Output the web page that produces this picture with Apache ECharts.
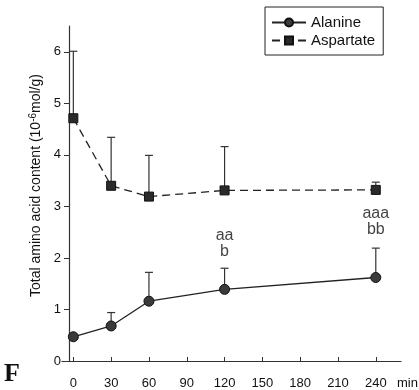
<!DOCTYPE html>
<html><head><meta charset="utf-8">
<script src="https://cdn.jsdelivr.net/npm/echarts@6/dist/echarts.min.js"></script>
<style>html,body{margin:0;padding:0;background:#fff}#c{width:419px;height:390px}</style>
</head><body><div id="c"></div>
<script>
const times = [0, 30, 60, 120, 240];
const xTicks = [0, 30, 60, 90, 120, 150, 180, 210, 240];
const yTicks = [0, 1, 2, 3, 4, 5, 6];
const alanine = [0.47, 0.68, 1.16, 1.39, 1.62];
const alanineUpper = [0.47, 0.94, 1.72, 1.80, 2.19];
const aspartate = [4.71, 3.40, 3.19, 3.31, 3.32];
const aspartateUpper = [6.01, 4.34, 3.99, 4.16, 3.47];
const annotX = [120, 240];
const annotY = [2.27, 2.70];
const annotText = ['aa\nb', 'aaa\nbb'];

const font = '"Liberation Sans", Arial, sans-serif';
function errData(v, u) { return times.map((t, i) => [t, v[i], u[i]]); }
function errSeries(v, u) {
  return {
    type: 'custom', z: 1, silent: true,
    data: errData(v, u),
    renderItem: function (params, api) {
      const p0 = api.coord([api.value(0), api.value(1)]);
      const p1 = api.coord([api.value(0), api.value(2)]);
      if (Math.abs(p1[1] - p0[1]) < 1) return null;
      return { type: 'group', children: [
        { type: 'line', shape: { x1: p0[0], y1: p0[1], x2: p1[0], y2: p1[1] }, style: { stroke: '#333', lineWidth: 1.2 } },
        { type: 'line', shape: { x1: p1[0] - 4, y1: p1[1], x2: p1[0] + 4, y2: p1[1] }, style: { stroke: '#333', lineWidth: 1.2 } }
      ]};
    }
  };
}
const chart = echarts.init(document.getElementById('c'));
chart.setOption({
  animation: false,
  backgroundColor: '#fff',
  grid: { left: 62, right: 18, top: 26, bottom: 29, containLabel: false, outerBoundsMode: 'none' },
  legend: {
    orient: 'vertical', left: 265, top: 7,
    borderColor: '#222', borderWidth: 1, backgroundColor: '#fff',
    padding: [8, 8, 7, 6], itemGap: 3, itemWidth: 34, itemHeight: 10,
    textStyle: { fontFamily: font, fontSize: 15, color: '#111' },
    data: ['Alanine', 'Aspartate']
  },
  xAxis: {
    type: 'value', min: -9, max: 260,
    name: 'min', nameLocation: 'end', nameGap: -4,
    nameTextStyle: { fontFamily: font, fontSize: 13, color: '#111', align: 'left', verticalAlign: 'top', padding: [16, 0, 0, 0] },
    axisLine: { onZero: false, lineStyle: { color: '#333', width: 1.2 } },
    axisTick: { inside: true, length: 4, customValues: xTicks, lineStyle: { color: '#333' } },
    axisLabel: { customValues: xTicks, fontFamily: font, fontSize: 13, color: '#111', margin: 16 },
    splitLine: { show: false }
  },
  yAxis: {
    type: 'value', min: 0, max: 6.5, offset: -7,
    name: '{n|Total amino acid content (10}{s|-6}{n|mol/g)}', nameLocation: 'middle', nameGap: 25,
    nameTextStyle: { fontFamily: font, fontSize: 14, color: '#111', padding: [0, 0, 0, 16],
      rich: { n: { fontFamily: font, fontSize: 14, color: '#111' }, s: { fontFamily: font, fontSize: 10, color: '#111', verticalAlign: 'bottom', padding: [0, 0, 6, 0] } } },
    axisLine: { show: true, onZero: false, lineStyle: { color: '#333', width: 1.2 } },
    axisTick: { show: true, length: 5, customValues: yTicks, lineStyle: { color: '#333' } },
    axisLabel: { customValues: yTicks, fontFamily: font, fontSize: 13, color: '#111', margin: 8 },
    splitLine: { show: false }
  },
  graphic: [{ type: 'text', left: 4, top: 361, style: { text: 'F', font: 'bold 26px "Liberation Serif", "DejaVu Serif", serif', fill: '#111' } }],
  series: [
    errSeries(alanine, alanineUpper),
    errSeries(aspartate, aspartateUpper),
    {
      name: 'Alanine', type: 'line', z: 3,
      data: times.map((t, i) => [t, alanine[i]]),
      symbol: 'circle', symbolSize: 10,
      lineStyle: { color: '#222', width: 1.3 },
      itemStyle: { color: '#3a3a3a', borderColor: '#111', borderWidth: 1 }
    },
    {
      name: 'Aspartate', type: 'line', z: 3,
      data: times.map((t, i) => [t, aspartate[i]]),
      symbol: 'rect', symbolSize: 9,
      lineStyle: { color: '#222', width: 1.3, type: [8, 5] },
      itemStyle: { color: '#2a2a2a', borderColor: '#111', borderWidth: 1 }
    },
    {
      type: 'scatter', symbolSize: 0, silent: true,
      data: annotX.map((x, i) => ({ value: [x, annotY[i]], label: { formatter: annotText[i] } })),
      label: { show: true, position: 'inside', fontFamily: font, fontSize: 16, lineHeight: 16, color: '#111', align: 'center' }
    }
  ]
});
</script></body></html>
